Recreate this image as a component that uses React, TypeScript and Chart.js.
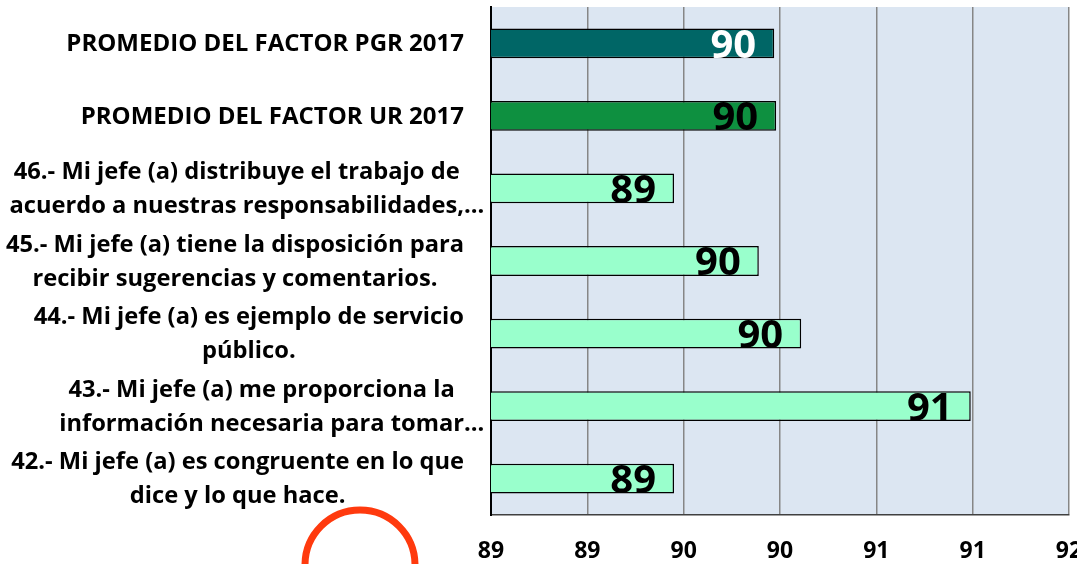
import React, { useEffect, useRef } from "react";
import { Chart, registerables } from "chart.js";

Chart.register(...registerables);

const categories: string[][] = [
  ["PROMEDIO DEL FACTOR PGR 2017"],
  ["PROMEDIO DEL FACTOR UR 2017"],
  ["46.- Mi jefe (a) distribuye el trabajo de", "acuerdo a nuestras responsabilidades,…"],
  ["45.- Mi jefe (a) tiene la disposición para", "recibir sugerencias y comentarios."],
  ["44.- Mi jefe (a) es ejemplo de servicio", "público."],
  ["43.- Mi jefe (a) me proporciona la", "información necesaria para tomar…"],
  ["42.- Mi jefe (a) es congruente en lo que", "dice y lo que hace."],
];

const values: number[] = [90.47, 90.48, 89.95, 90.39, 90.61, 91.49, 89.95];

const barColors: string[] = ["#006666", "#0E9040", "#99FFCC", "#99FFCC", "#99FFCC", "#99FFCC", "#99FFCC"];
const valueLabelColors: string[] = ["#FFFFFF", "#000000", "#000000", "#000000", "#000000", "#000000", "#000000"];

const axisMin = 89;
const axisMax = 92;
const axisStep = 0.5;

const FONT = "'Open Sans', Lato, sans-serif";

const formatInt = (v: number) => String(Math.floor(v + 1e-9));

const decoPlugin = {
  id: "deco",
  beforeDraw(chart: any) {
    const { ctx, chartArea } = chart;
    ctx.save();
    ctx.fillStyle = "#DCE6F2";
    ctx.fillRect(chartArea.left, chartArea.top, chartArea.right - chartArea.left, chartArea.bottom - chartArea.top);
    ctx.restore();
  },
  afterDatasetsDraw(chart: any) {
    const { ctx } = chart;
    const meta = chart.getDatasetMeta(0);
    ctx.save();
    ctx.font = `bold 40px ${FONT}`;
    ctx.textAlign = "right";
    ctx.textBaseline = "middle";
    meta.data.forEach((bar: any, i: number) => {
      ctx.fillStyle = valueLabelColors[i];
      ctx.fillText(formatInt(values[i]), bar.x - 18, bar.y + 3);
    });
    ctx.restore();
  },
  afterDraw(chart: any) {
    const { ctx, chartArea } = chart;
    const yScale = chart.scales.y;
    ctx.save();
    ctx.fillStyle = "#000000";
    ctx.textBaseline = "middle";
    ctx.textAlign = "left";
    const lineH = 34;
    const right = chartArea.left - 27;
    categories.forEach((lines, i) => {
      ctx.font = lines.length === 1 ? `bold 24px ${FONT}` : `bold 23.7px ${FONT}`;
      const yc = yScale.getPixelForValue(i) + 1;
      const core = lines.map((l) => l.replace(/…$/, ""));
      const widths = core.map((l) => ctx.measureText(l).width);
      const maxW = Math.max(...widths);
      const cx = right - maxW / 2;
      const startY = yc - ((lines.length - 1) * lineH) / 2;
      lines.forEach((l, j) => {
        ctx.fillText(l, cx - widths[j] / 2, startY + j * lineH);
      });
    });
    // decorative ring
    ctx.strokeStyle = "#FF3A0E";
    ctx.lineWidth = 7;
    ctx.beginPath();
    ctx.ellipse(chartArea.left - 131, chartArea.bottom + 50, 55, 55, 0, 0, Math.PI * 2);
    ctx.stroke();
    ctx.restore();
  },
};

export default function App() {
  const ref = useRef<HTMLCanvasElement | null>(null);
  useEffect(() => {
    if (!ref.current) return;
    const chart = new Chart(ref.current, {
      type: "bar",
      data: {
        labels: categories.map((c) => c.join(" ")),
        datasets: [
          {
            data: values,
            backgroundColor: barColors,
            borderColor: "#000000",
            borderWidth: 1.5,
            barPercentage: 0.41,
            categoryPercentage: 1,
          },
        ],
      },
      options: {
        indexAxis: "y",
        animation: false,
        responsive: false,
        devicePixelRatio: 1,
        layout: { padding: { left: 0, top: 7, right: 31, bottom: 0 } },
        plugins: { legend: { display: false }, tooltip: { enabled: false } },
        scales: {
          x: {
            min: axisMin,
            max: axisMax,
            afterFit: (s: any) => {
              s.height = 49;
              s.paddingLeft = 0;
              s.paddingRight = 0;
            },
            ticks: {
              stepSize: axisStep,
              callback: (v: any) => formatInt(Number(v)),
              color: "#000000",
              font: { family: FONT, size: 23, weight: "bold" },
              padding: 23,
              maxRotation: 0,
              autoSkip: false,
            },
            grid: { color: "#868686", lineWidth: 1.5, drawTicks: false },
            border: { color: "#404040", width: 1.5 },
          },
          y: {
            afterFit: (s: any) => {
              s.width = 491;
            },
            ticks: { display: false },
            grid: { display: false, drawTicks: false },
            border: { color: "#000000", width: 2 },
          },
        },
      },
      plugins: [decoPlugin],
    });
    return () => chart.destroy();
  }, []);
  return (
    <div style={{ position: "fixed", left: 0, top: 0, width: 1077, height: 564, overflow: "hidden", background: "#ffffff" }}>
      <canvas ref={ref} width={1100} height={564} style={{ width: 1100, height: 564, display: "block" }} />
    </div>
  );
}
